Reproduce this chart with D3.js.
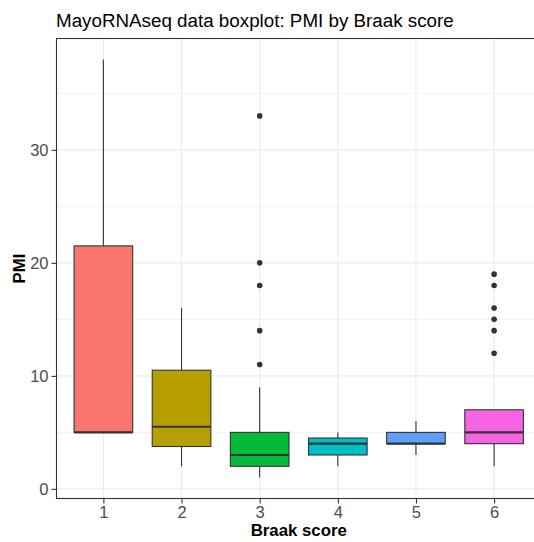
<!DOCTYPE html>
<html>
<head>
<meta charset="utf-8">
<script src="https://cdn.jsdelivr.net/npm/d3@7"></script>
<style>
  html, body { margin: 0; padding: 0; background: #fff; }
  svg { display: block; font-family: "Liberation Sans", Arial, Helvetica, sans-serif; }
</style>
</head>
<body>
<svg id="chart" width="534" height="542"></svg>
<script>
// Braak score groups and PMI box statistics
const categories = ["1", "2", "3", "4", "5", "6"];
const lowerWhisker = [5, 2, 1, 2, 3, 2];
const q1 = [5, 3.75, 2, 3, 4, 4];
const median = [5, 5.5, 3, 4, 4, 5];
const q3 = [21.5, 10.5, 5, 4.5, 5, 7];
const upperWhisker = [38, 16, 9, 5, 6, 7];
const outliers = [[], [], [11, 14, 18, 20, 33], [], [], [12, 14, 15, 16, 18, 19]];
const fills = ["#F8766D", "#B79F00", "#00BA38", "#00BFC4", "#619CFF", "#F564E3"];
const yMajorTicks = [0, 10, 20, 30];
const yMinorTicks = [5, 15, 25, 35];

const boxes = categories.map((c, i) => ({
  cat: c, lo: lowerWhisker[i], q1: q1[i], med: median[i], q3: q3[i],
  hi: upperWhisker[i], out: outliers[i], fill: fills[i]
}));

const svg = d3.select("#chart");
const panel = { left: 56.5, top: 38.5, right: 541, bottom: 498.5 };

// data range plus 5% expansion on each side
const allVals = boxes.flatMap(b => [b.lo, b.hi, ...b.out]);
const yMin = d3.min(allVals), yMax = d3.max(allVals);
const pad = (yMax - yMin) * 0.05;
const y = d3.scaleLinear().domain([yMin - pad, yMax + pad]).range([panel.bottom, panel.top]);
const x = d3.scalePoint().domain(categories).range([panel.left, panel.right]).padding(0.6);
const boxW = x.step() * 0.75;

svg.append("defs").append("clipPath").attr("id", "panelClip")
  .append("rect").attr("x", panel.left).attr("y", panel.top)
  .attr("width", panel.right - panel.left).attr("height", panel.bottom - panel.top);

const g = svg.append("g").attr("clip-path", "url(#panelClip)");

// grid
g.selectAll(".minor").data(yMinorTicks).join("line")
  .attr("x1", panel.left).attr("x2", panel.right)
  .attr("y1", d => y(d)).attr("y2", d => y(d))
  .attr("stroke", "#EBEBEB").attr("stroke-width", 0.6);
g.selectAll(".major").data(yMajorTicks).join("line")
  .attr("x1", panel.left).attr("x2", panel.right)
  .attr("y1", d => y(d)).attr("y2", d => y(d))
  .attr("stroke", "#EBEBEB").attr("stroke-width", 1.1);
g.selectAll(".vgrid").data(categories).join("line")
  .attr("x1", d => x(d)).attr("x2", d => x(d))
  .attr("y1", panel.top).attr("y2", panel.bottom)
  .attr("stroke", "#EBEBEB").attr("stroke-width", 1.1);

// boxes
const bg = g.selectAll(".box").data(boxes).join("g");
bg.append("line")
  .attr("x1", d => x(d.cat)).attr("x2", d => x(d.cat))
  .attr("y1", d => y(d.q3)).attr("y2", d => y(d.hi))
  .attr("stroke", "#333333").attr("stroke-width", 1.1);
bg.append("line")
  .attr("x1", d => x(d.cat)).attr("x2", d => x(d.cat))
  .attr("y1", d => y(d.q1)).attr("y2", d => y(d.lo))
  .attr("stroke", "#333333").attr("stroke-width", 1.1);
bg.append("rect")
  .attr("x", d => x(d.cat) - boxW / 2).attr("width", boxW)
  .attr("y", d => y(d.q3)).attr("height", d => y(d.q1) - y(d.q3))
  .attr("fill", d => d.fill).attr("stroke", "#333333").attr("stroke-width", 1.1);
bg.append("line")
  .attr("x1", d => x(d.cat) - boxW / 2).attr("x2", d => x(d.cat) + boxW / 2)
  .attr("y1", d => y(d.med)).attr("y2", d => y(d.med))
  .attr("stroke", "#333333").attr("stroke-width", 2.2);
bg.selectAll("circle").data(d => d.out.map(v => ({ cat: d.cat, v }))).join("circle")
  .attr("cx", d => x(d.cat)).attr("cy", d => y(d.v)).attr("r", 2.8)
  .attr("fill", "#333333");

// panel border
svg.append("rect")
  .attr("x", panel.left).attr("y", panel.top)
  .attr("width", panel.right - panel.left).attr("height", panel.bottom - panel.top)
  .attr("fill", "none").attr("stroke", "#333333").attr("stroke-width", 1.1);

// axes
const yAxis = d3.axisLeft(y).tickValues(yMajorTicks).tickSize(5).tickPadding(3);
const ya = svg.append("g").attr("transform", `translate(${panel.left},0)`).call(yAxis);
const xAxis = d3.axisBottom(x).tickSize(5).tickPadding(3);
const xa = svg.append("g").attr("transform", `translate(0,${panel.bottom})`).call(xAxis);
[ya, xa].forEach(a => {
  a.select(".domain").remove();
  a.selectAll(".tick line").attr("stroke", "#333333").attr("stroke-width", 1.1);
  a.selectAll(".tick text").attr("fill", "#4D4D4D")
    .style("font-size", "16.5px").style("font-family", "Liberation Sans, Arial, sans-serif");
});

// titles
svg.append("text").attr("x", 56).attr("y", 26.5)
  .attr("fill", "#000").style("font-size", "18.8px")
  .text("MayoRNAseq data boxplot: PMI by Braak score");
svg.append("text").attr("x", (panel.left + panel.right) / 2).attr("y", 535.5)
  .attr("text-anchor", "middle").attr("fill", "#000")
  .style("font-size", "16.8px").style("font-weight", "bold")
  .text("Braak score");
svg.append("text")
  .attr("transform", `translate(25,${(panel.top + panel.bottom) / 2}) rotate(-90)`)
  .attr("text-anchor", "middle").attr("fill", "#000")
  .style("font-size", "16.8px").style("font-weight", "bold")
  .text("PMI");
</script>
</body>
</html>
